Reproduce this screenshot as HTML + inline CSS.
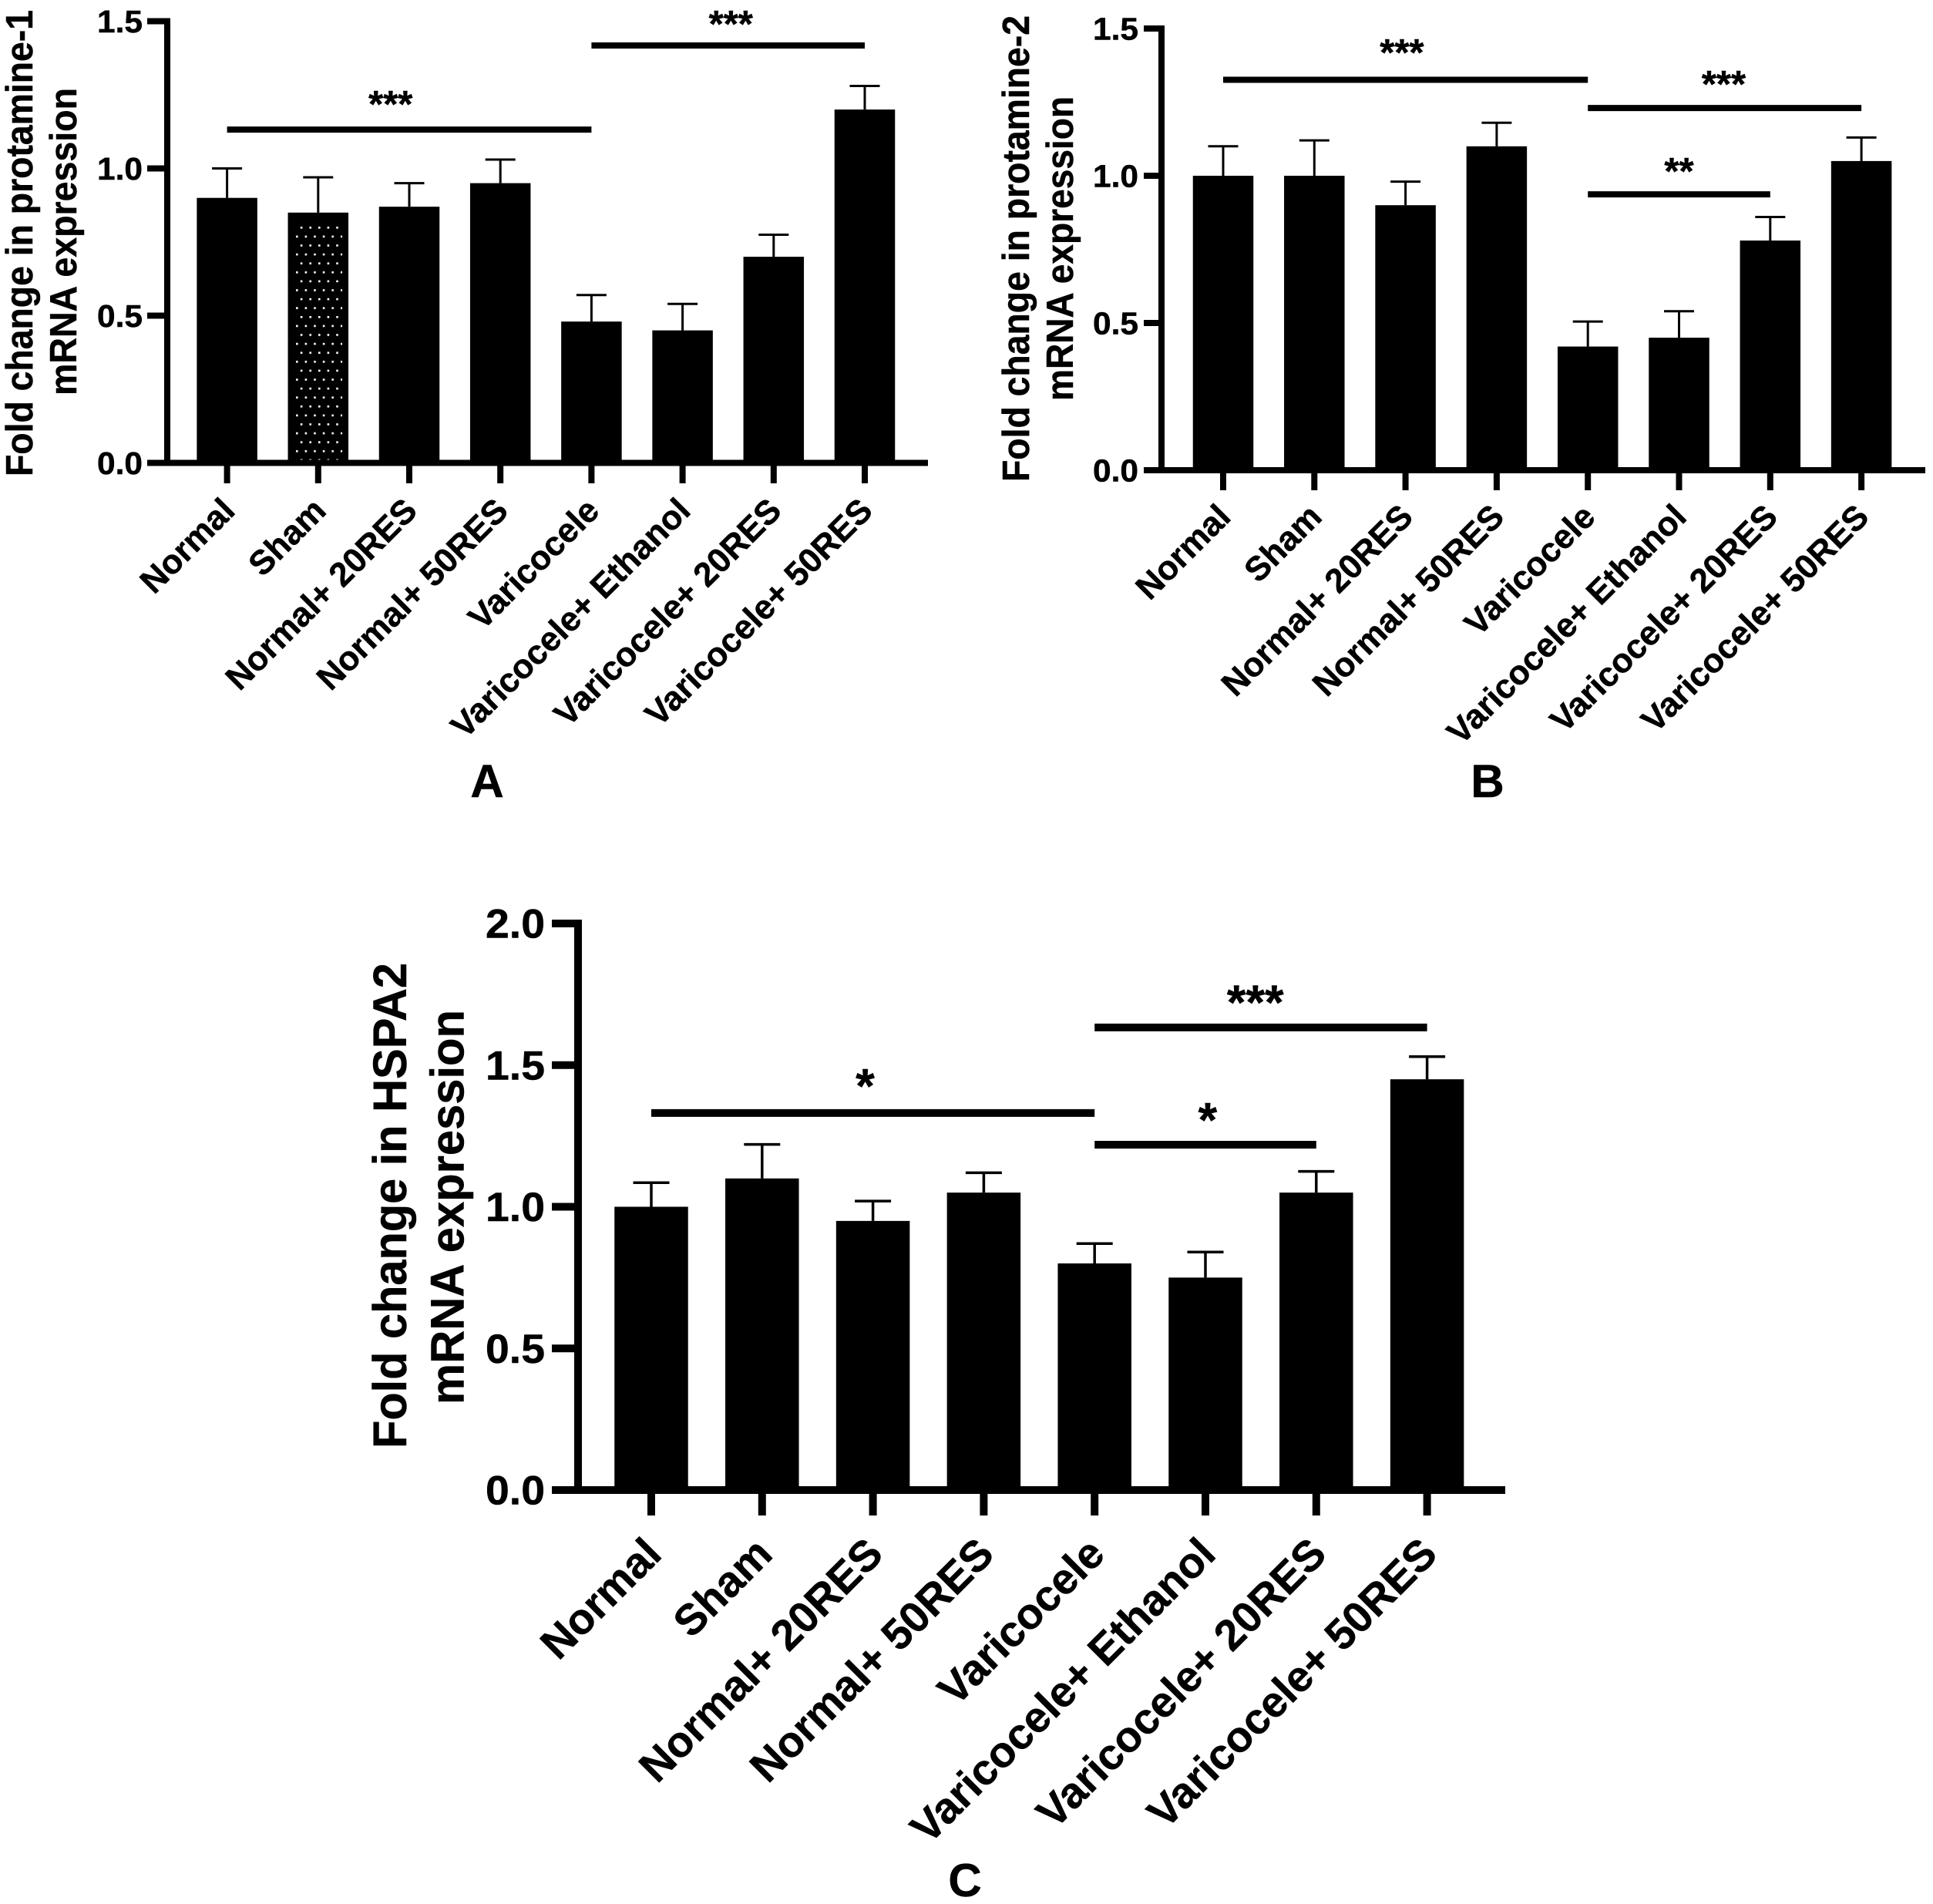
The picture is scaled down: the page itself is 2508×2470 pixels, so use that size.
<!DOCTYPE html>
<html lang="en">
<head>
<meta charset="utf-8">
<title>Fold change in mRNA expression</title>
<style>
  html, body { margin: 0; padding: 0; background: #fff; }
  svg { display: block; }
  text { font-family: "Liberation Sans", Arial, sans-serif; font-weight: 700; fill: #000; stroke: #000; stroke-width: 0.5; }
</style>
</head>
<body>
<svg id="figure" xmlns="http://www.w3.org/2000/svg" width="2508" height="2470" viewBox="0 0 2508 2470">
  <rect width="2508" height="2470" fill="#fff"/>
  <defs>
    <pattern id="dots" patternUnits="userSpaceOnUse" x="384" y="294" width="11.6" height="23.2">
      <rect x="5.8" y="0" width="2.6" height="2.6" fill="#fff"/>
      <rect x="0" y="11.6" width="2.6" height="2.6" fill="#fff"/>
    </pattern>
  </defs>
  <g id="panel-a"></g>
  <g id="panel-b"></g>
  <g id="panel-c"></g>
</svg>
<script>
// ---- chart data ----
const categories = ["Normal", "Sham", "Normal+ 20RES", "Normal+ 50RES", "Varicocele", "Varicocele+ Ethanol", "Varicocele+ 20RES", "Varicocele+ 50RES"];
const categorySlugs = ["normal", "sham", "normal-20res", "normal-50res", "varicocele", "varicocele-ethanol", "varicocele-20res", "varicocele-50res"];

const panelAValues = [0.90, 0.85, 0.87, 0.95, 0.48, 0.45, 0.70, 1.20];
const panelAErrors = [0.10, 0.12, 0.08, 0.08, 0.09, 0.09, 0.075, 0.08];
const panelATicks = [0.0, 0.5, 1.0, 1.5];
const panelATitle = ["Fold change in protamine-1", "mRNA expression"];
// from/to = group index, level = axis value, starAt = group position, starLevel = axis value
const panelASig = [
  { from: 0, to: 4, level: 1.132, stars: "***", starAt: 1.795, starLevel: 1.234 },
  { from: 4, to: 7, level: 1.4175, stars: "***", starAt: 5.53, starLevel: 1.507 }
];

const panelBValues = [1.00, 1.00, 0.90, 1.10, 0.42, 0.45, 0.78, 1.05];
const panelBErrors = [0.10, 0.12, 0.08, 0.08, 0.085, 0.09, 0.08, 0.08];
const panelBTicks = [0.0, 0.5, 1.0, 1.5];
const panelBTitle = ["Fold change in protamine-2", "mRNA expression"];
const panelBSig = [
  { from: 0, to: 4, level: 1.326, stars: "***", starAt: 1.96, starLevel: 1.435 },
  { from: 4, to: 7, level: 1.23, stars: "***", starAt: 5.49, starLevel: 1.327 },
  { from: 4, to: 6, level: 0.937, stars: "**", starAt: 5.0, starLevel: 1.031 }
];

const panelCValues = [1.00, 1.10, 0.95, 1.05, 0.80, 0.75, 1.05, 1.45];
const panelCErrors = [0.085, 0.12, 0.07, 0.07, 0.07, 0.09, 0.075, 0.08];
const panelCTicks = [0.0, 0.5, 1.0, 1.5, 2.0];
const panelCTitle = ["Fold change in HSPA2", "mRNA expression"];
const panelCSig = [
  { from: 0, to: 4, level: 1.331, stars: "*", starAt: 1.93, starLevel: 1.448 },
  { from: 4, to: 7, level: 1.633, stars: "***", starAt: 5.45, starLevel: 1.743 },
  { from: 4, to: 6, level: 1.219, stars: "*", starAt: 5.02, starLevel: 1.328 }
];

// ---- layout ----
const layoutA = {
  id: "panel-a", letter: "A", letterX: 632, letterY: 1034,
  axisX: 217, x0: 294.6, step: 118.2, xEnd: 1204, y0: 600.5, yPerUnit: 382, yMax: 1.5,
  barW: 78.5, axisW: 8, tickLeft: 191, tickBottom: 627, errW: 39, errS: 3,
  tickFont: 41, tickLen: 59, tickRight: 185, tickDy: 14.5,
  xFont: 44, xDx: 12.5, xY: 665, starFont: 49,
  titleFont: 49, title: [{ x: 42, y: 315.5, len: 605 }, { x: 99, y: 313.5, len: 399 }]
};
const layoutB = {
  id: "panel-b", letter: "B", letterX: 1930, letterY: 1034,
  axisX: 1507, x0: 1587, step: 118.3, xEnd: 2498, y0: 610, yPerUnit: 382, yMax: 1.5,
  barW: 78.5, axisW: 8, tickLeft: 1484, tickBottom: 636, errW: 39, errS: 3,
  tickFont: 41, tickLen: 59, tickRight: 1477, tickDy: 14.5,
  xFont: 44, xDx: 12, xY: 673, starFont: 49,
  titleFont: 49, title: [{ x: 1335, y: 322.5, len: 605 }, { x: 1392, y: 322.5, len: 395 }]
};
const layoutC = {
  id: "panel-c", letter: "C", letterX: 1252, letterY: 2460,
  axisX: 750, x0: 845, step: 143.8, xEnd: 1953, y0: 1933, yPerUnit: 367.5, yMax: 2.0,
  barW: 95.5, axisW: 10, tickLeft: 716, tickBottom: 1966, errW: 47, errS: 3.5,
  tickFont: 53, tickLen: 77, tickRight: 707, tickDy: 18.5,
  xFont: 56, xDx: 16, xY: 2019, starFont: 63,
  titleFont: 61, title: [{ x: 527, y: 1564, len: 630 }, { x: 601.5, y: 1566, len: 512 }]
};

const NS = "http://www.w3.org/2000/svg";
function make(parent, tag, attrs) {
  const el = document.createElementNS(NS, tag);
  for (const k in attrs) el.setAttribute(k, attrs[k]);
  parent.appendChild(el);
  return el;
}

function drawPanel(cfg, values, errors, ticks, titleLines, sig) {
  const g = document.getElementById(cfg.id);
  const xPos = function (i) { return cfg.x0 + i * cfg.step; };
  const yPos = function (v) { return cfg.y0 - v * cfg.yPerUnit; };

  // bars, error bars
  values.forEach(function (v, i) {
    const slug = categorySlugs[i];
    const bx = xPos(i) - cfg.barW / 2;
    const top = yPos(v);
    const upper = yPos(v + errors[i]);

    const bar = make(g, "rect", { x: bx, y: top, width: cfg.barW, height: cfg.y0 - top, fill: "#000" });
    
    

    if (cfg.id === "panel-a" && i === 1) {
      const dotted = make(g, "rect", { x: bx + 8, y: top + 14, width: cfg.barW - 16, height: cfg.y0 - top - 17, fill: "url(#dots)" });
      
      
    }

    const stem = make(g, "line", { x1: xPos(i), x2: xPos(i), y1: top, y2: upper, stroke: "#000", "stroke-width": cfg.errS });
    
    

    const cap = make(g, "line", { x1: xPos(i) - cfg.errW / 2, x2: xPos(i) + cfg.errW / 2, y1: upper, y2: upper, stroke: "#000", "stroke-width": cfg.errS });
    
    

    const tick = make(g, "line", { x1: xPos(i), x2: xPos(i), y1: cfg.y0, y2: cfg.tickBottom, stroke: "#000", "stroke-width": cfg.axisW });
    
    

    const ex = xPos(i) + cfg.xDx;
    const label = make(g, "text", { x: ex, y: cfg.xY, "text-anchor": "end", "font-size": cfg.xFont, transform: "rotate(-45 " + ex + " " + cfg.xY + ")" });
    label.textContent = categories[i];
    
    
  });

  // axes
  const yAxis = make(g, "line", { x1: cfg.axisX, x2: cfg.axisX, y1: yPos(cfg.yMax) - cfg.axisW / 2, y2: cfg.y0 + cfg.axisW / 2, stroke: "#000", "stroke-width": cfg.axisW });
  
  

  const xAxis = make(g, "line", { x1: cfg.axisX, x2: cfg.xEnd, y1: cfg.y0, y2: cfg.y0, stroke: "#000", "stroke-width": cfg.axisW });
  
  

  ticks.forEach(function (t) {
    const tickMark = make(g, "line", { x1: cfg.tickLeft, x2: cfg.axisX, y1: yPos(t), y2: yPos(t), stroke: "#000", "stroke-width": cfg.axisW });
    
    

    const tickLabel = make(g, "text", { x: cfg.tickRight, y: yPos(t) + cfg.tickDy, "text-anchor": "end", "font-size": cfg.tickFont, textLength: cfg.tickLen, lengthAdjust: "spacingAndGlyphs" });
    tickLabel.textContent = t.toFixed(1);
    
    
  });

  // axis title
  titleLines.forEach(function (line, i) {
    const p = cfg.title[i];
    const title = make(g, "text", { x: p.x, y: p.y, "text-anchor": "middle", "font-size": cfg.titleFont, textLength: p.len, lengthAdjust: "spacingAndGlyphs", transform: "rotate(-90 " + p.x + " " + p.y + ")" });
    title.textContent = line;
    
    
  });

  // significance brackets
  sig.forEach(function (s) {
    const sigLine = make(g, "line", { x1: xPos(s.from), x2: xPos(s.to), y1: yPos(s.level), y2: yPos(s.level), stroke: "#000", "stroke-width": cfg.axisW });
    
    

    const star = make(g, "text", { x: xPos(s.starAt), y: yPos(s.starLevel) + 0.47 * cfg.starFont, "text-anchor": "middle", "font-size": cfg.starFont });
    star.textContent = s.stars;
    
    
  });

  // panel letter
  const letter = make(g, "text", { x: cfg.letterX, y: cfg.letterY, "text-anchor": "middle", "font-size": 60 });
  letter.textContent = cfg.letter;
  
  
}

drawPanel(layoutA, panelAValues, panelAErrors, panelATicks, panelATitle, panelASig);
drawPanel(layoutB, panelBValues, panelBErrors, panelBTicks, panelBTitle, panelBSig);
drawPanel(layoutC, panelCValues, panelCErrors, panelCTicks, panelCTitle, panelCSig);
</script>
</body>
</html>
